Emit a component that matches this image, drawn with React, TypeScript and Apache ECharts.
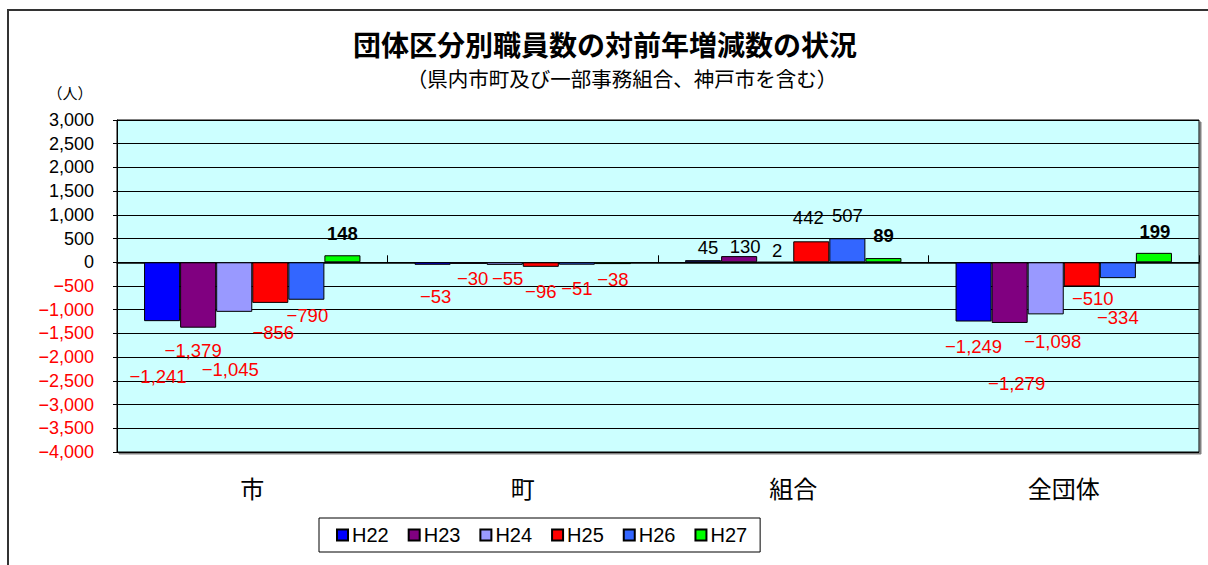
import React, { useEffect, useRef } from "react";
import * as echarts from "echarts";

const categories = ["市", "町", "組合", "全団体"];
const seriesNames = ["H22", "H23", "H24", "H25", "H26", "H27"];
const h22 = [-1241, -53, 45, -1249];
const h23 = [-1379, -30, 130, -1279];
const h24 = [-1045, -55, 2, -1098];
const h25 = [-856, -96, 442, -510];
const h26 = [-790, -51, 507, -334];
const h27 = [148, -38, 89, 199];
const seriesValues = [h22, h23, h24, h25, h26, h27];
const seriesColors = ["#0000FF", "#800080", "#9999FF", "#FF0000", "#3366FF", "#00FF00"];
const boldPositiveLabel = [false, false, false, false, false, true];

// label nudges (Excel places labels irregularly)
const labelNudges = [
  [[-4, 46], [3, 22], [5, -3], [0, 15]],
  [[-5, 13], [4, 5], [6, 0], [7, 51]],
  [[-4, 48], [3, 4], [2, -2], [7, 18]],
  [[3, 20], [0, 15], [-3, -14], [11, 3]],
  [[1, 6], [0, 14], [0, -13], [0, 30]],
  [[0, -12], [0, 6], [0, -13], [1, -12]],
];

const yMin = -4000;
const yMax = 3000;
const yStep = 500;

const fmt = (v: number) => {
  const s = Math.abs(v).toLocaleString("en-US");
  return v < 0 ? "\u2212" + s : s;
};

export default function App() {
  const ref = useRef<HTMLDivElement>(null);
  useEffect(() => {
    if (!ref.current) return;
    const chart = echarts.init(ref.current, null, { renderer: "svg" });
    const series = seriesNames.map((name, si) => ({
      name,
      type: "bar",
      xAxisIndex: 0,
      barGap: "0%",
      barCategoryGap: "20%",
      itemStyle: { color: seriesColors[si], borderColor: "#000", borderWidth: 1 },
      data: seriesValues[si].map((v, ci) => ({
        value: v,
        label: {
          show: true,
          position: v < 0 ? "bottom" : "top",
          distance: 0,
          offset: labelNudges[si][ci],
          formatter: () => fmt(v),
          color: v < 0 ? "#FF0000" : "#000",
          fontSize: 18.5,
          fontWeight: boldPositiveLabel[si] && v >= 0 ? "bold" : "normal",
          fontFamily: "Liberation Sans",
        },
      })),
    }));
    chart.setOption({
      animation: false,
      backgroundColor: "#fff",
      graphic: [
        {
          type: "rect",
          shape: { x: 8, y: 10, width: 1400, height: 800 },
          style: { fill: "none", stroke: "#333", lineWidth: 2 },
          z: -10,
          silent: true,
        },
        {
          type: "text",
          x: 605,
          y: 44,
          style: {
            text: "団体区分別職員数の対前年増減数の状況",
            font: 'bold 28px "Noto Sans CJK JP"',
            lineHeight: 28,
            fill: "#000",
            textAlign: "center",
            textVerticalAlign: "middle",
            align: "center",
            verticalAlign: "middle",
          },
        },
        {
          type: "text",
          x: 622,
          y: 78,
          style: {
            text: "（県内市町及び一部事務組合、神戸市を含む）",
            font: '20.5px "Noto Sans CJK JP"',
            lineHeight: 21,
            fill: "#000",
            textAlign: "center",
            textVerticalAlign: "middle",
            align: "center",
            verticalAlign: "middle",
          },
        },
        {
          type: "text",
          x: 70,
          y: 92,
          style: {
            text: "（人）",
            font: '15px "Noto Sans CJK JP"',
            lineHeight: 15,
            fill: "#000",
            textAlign: "center",
            textVerticalAlign: "middle",
            align: "center",
            verticalAlign: "middle",
          },
        },
      ],
      grid: {
        left: 117,
        right: 9,
        top: 120,
        bottom: 113,
        show: true,
        backgroundColor: "#CCFFFF",
        borderColor: "#000",
        borderWidth: 1,
        shadowColor: "#808080",
        shadowOffsetX: 2,
        shadowOffsetY: 2,
        shadowBlur: 0,
      },
      legend: {
        data: seriesNames,
        left: 319,
        top: 518,
        padding: [7, 13, 7, 17],
        itemGap: 19,
        itemWidth: 11,
        itemHeight: 11,
        borderColor: "#000",
        borderWidth: 1,
        icon: "rect",
        textStyle: { fontSize: 20, fontFamily: "Liberation Sans", color: "#000", padding: [0, 0, 0, -1] },
      },
      xAxis: [
        {
          type: "category",
          data: categories,
          position: "bottom",
          axisLine: { onZero: true, lineStyle: { color: "#000", width: 1.5 } },
          axisTick: { show: true, inside: true, length: 7, lineStyle: { color: "#000" } },
          axisLabel: { show: false },
        },
        {
          type: "category",
          data: categories,
          position: "bottom",
          axisLine: { show: false, onZero: false },
          axisTick: { show: false },
          axisLabel: {
            show: true,
            margin: 23,
            fontSize: 24,
            color: "#000",
            fontFamily: "Noto Sans CJK JP",
          },
        },
      ],
      yAxis: {
        type: "value",
        min: yMin,
        max: yMax,
        interval: yStep,
        axisLine: { show: true, lineStyle: { color: "#000" } },
        axisTick: { show: true, length: 4, lineStyle: { color: "#000" } },
        splitLine: { show: true, lineStyle: { color: "#000", width: 1 } },
        axisLabel: {
          margin: 23,
          fontSize: 18,
          fontFamily: "Liberation Sans",
          formatter: (v: number) => fmt(v),
          color: (v: any) => (Number(v) < 0 ? "#FF0000" : "#000"),
        },
      },
      series,
    });
    return () => chart.dispose();
  }, []);
  return (
    <div
      ref={ref}
      style={{ position: "fixed", left: 0, top: 0, width: 1208, height: 565 }}
    />
  );
}
